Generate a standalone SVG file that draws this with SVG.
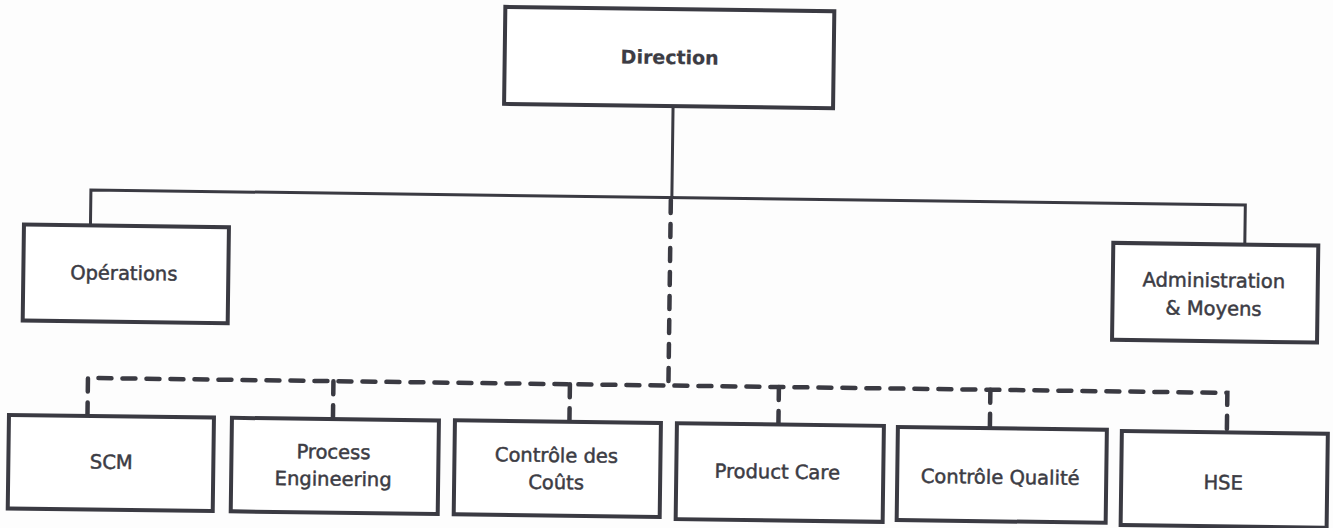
<svg xmlns="http://www.w3.org/2000/svg" width="1333" height="528" viewBox="0 0 1333 528">
  <style>
    .box { fill: #ffffff; stroke: #3a3a42; stroke-width: 4; }
    .lbl { font-family: "DejaVu Sans", "Liberation Sans", sans-serif; font-size: 19.5px; fill: #3c3c44; stroke: #3c3c44; stroke-width: 0.5; text-anchor: middle; }
    .title { font-weight: bold; font-size: 19px; stroke-width: 0.2; }
    .solid { fill: none; stroke: #3a3a42; stroke-width: 3; }
    .dash { fill: none; stroke: #3a3a42; stroke-width: 4.5; stroke-dasharray: 13 11; stroke-linecap: round; }
  </style>
  <rect width="1333" height="528" fill="#fdfdfd"/>
  <!-- whole chart sits slightly tilted on the page -->
  <g transform="rotate(0.75 666 264)">
    <g id="connectors">
      <!-- hierarchical links -->
      <path class="solid" d="M671,106 V197.5 M90,233 V197.5 H1244.5 V237"/>
      <!-- functional (dotted) links -->
      <path class="dash" d="M670,200 V385.5"/>
      <path class="dash" d="M89.5,423 V385.5 H1229 V425"/>
      <path class="dash" d="M335,385.5 V423"/>
      <path class="dash" d="M571.5,385.5 V423"/>
      <path class="dash" d="M780.5,385.5 V423"/>
      <path class="dash" d="M992,385.5 V424"/>
    </g>

    <g id="direction">
      <rect class="box" x="502" y="9" width="329" height="97"/>
      <text class="lbl title" x="667" y="64">Direction</text>
    </g>

    <g id="operations">
      <rect class="box" x="23.5" y="233" width="205" height="96"/>
      <text class="lbl" x="124" y="287">Opérations</text>
    </g>

    <g id="administration">
      <rect class="box" x="1113" y="237" width="205" height="97"/>
      <text class="lbl" x="1214" y="280">Administration</text>
      <text class="lbl" x="1214" y="308">&amp; Moyens</text>
    </g>

    <g id="scm">
      <rect class="box" x="11" y="423.5" width="205" height="93.5"/>
      <text class="lbl" x="114" y="476">SCM</text>
    </g>

    <g id="process-engineering">
      <rect class="box" x="234" y="423.5" width="207" height="93.5"/>
      <text class="lbl" x="336" y="463">Process</text>
      <text class="lbl" x="336" y="490">Engineering</text>
    </g>

    <g id="controle-couts">
      <rect class="box" x="457" y="423" width="206" height="94"/>
      <text class="lbl" x="559" y="463.5">Contrôle des</text>
      <text class="lbl" x="559" y="490.5">Coûts</text>
    </g>

    <g id="product-care">
      <rect class="box" x="679" y="423" width="207" height="96"/>
      <text class="lbl" x="780" y="477">Product Care</text>
    </g>

    <g id="controle-qualite">
      <rect class="box" x="900" y="424" width="209" height="93"/>
      <text class="lbl" x="1003" y="479.5">Contrôle Qualité</text>
    </g>

    <g id="hse">
      <rect class="box" x="1124" y="425" width="206" height="94"/>
      <text class="lbl" x="1226" y="482">HSE</text>
    </g>
  </g>
</svg>
